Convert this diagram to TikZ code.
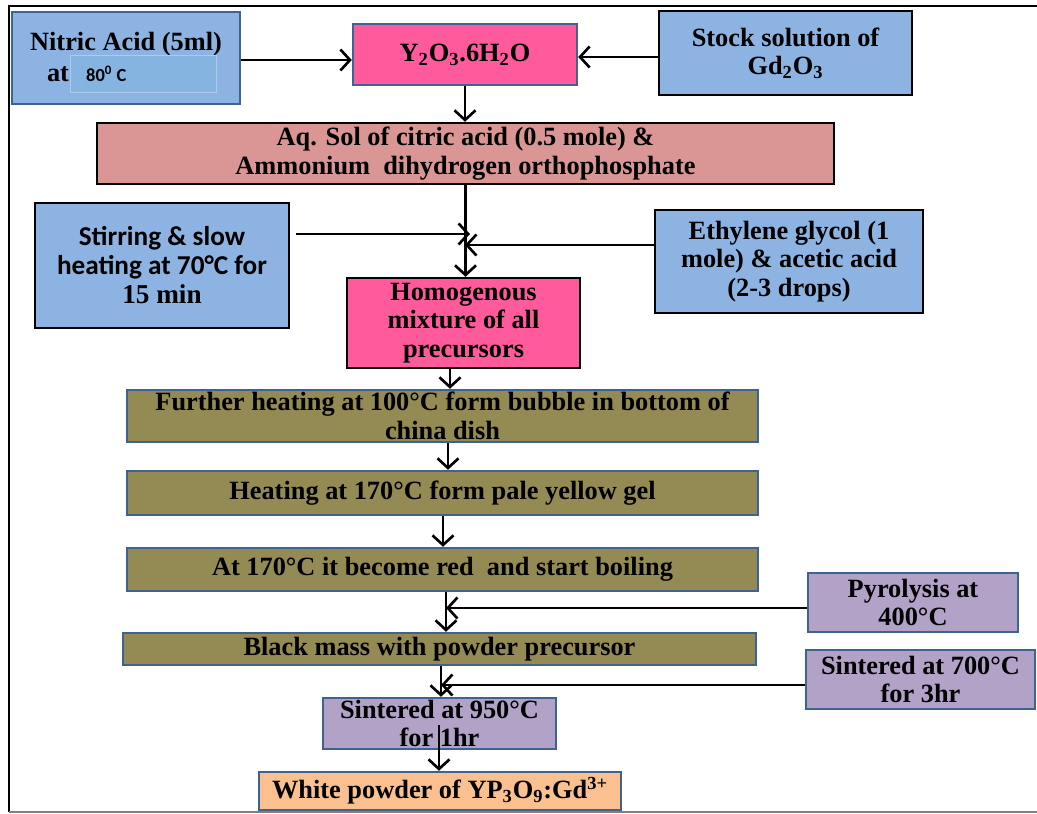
\documentclass[tikz,border=0pt]{standalone}
\usepackage{fontspec}
\setmainfont{Liberation Serif}
\newfontfamily\calfont{Carlito}
\usetikzlibrary{positioning, arrows.meta}

\definecolor{skyfill}{HTML}{8DB3E2}
\definecolor{innerfill}{HTML}{85B4E0}
\definecolor{pinkfill}{HTML}{FF5A9B}
\definecolor{rosefill}{HTML}{D99694}
\definecolor{olivefill}{HTML}{948A54}
\definecolor{lilacfill}{HTML}{B3A2C7}
\definecolor{peachfill}{HTML}{FAC090}
\definecolor{slateline}{HTML}{3F6390}

\begin{document}
\begin{tikzpicture}
	[x=0.02cm, y=-0.02cm, >={Straight Barb[length=5.5pt,width=12pt]},
	 box/.style={rectangle, draw=black, line width=1.4pt, inner sep=0pt, align=center,
	   font=\fontsize{15}{16.2}\selectfont\bfseries},
	 slatebox/.style={box, draw=slateline},
	 flow/.style={->, line width=1.5pt}]
   \useasboundingbox (0,0) rectangle (1037,814);
   \draw[line width=1pt] (1037,6) -- (9,6) -- (9,812);
   \draw[line width=0.8pt, gray] (9,812) -- (1037,812);

   \node[slatebox, fill=skyfill, minimum width=4.56cm, minimum height=1.84cm] (nitric) at (126,58) {};
   \node[font=\fontsize{15}{16.2}\selectfont\bfseries] (nitrictxt) at (126,44) {Nitric Acid (5ml)};
   \node[rectangle, fill=innerfill, draw=skyfill!70!white, line width=0.5pt, minimum width=2.92cm, minimum height=0.74cm] (nitrictemp) at (143,73.5) {};
   \node[font=\fontsize{15}{16.2}\selectfont\bfseries] (nitricat) at (58,74) {at};
   \node[font=\calfont\fontsize{10.5}{12}\selectfont\bfseries, anchor=west] (nitricdeg) at (80,74) {80\textsuperscript{0} C};

   \node[slatebox, fill=pinkfill, minimum width=4.48cm, minimum height=1.22cm] (yoxide) at (465,54.5) {Y\textsubscript{2}O\textsubscript{3}.6H\textsubscript{2}O};
   \node[box, fill=skyfill, minimum width=5.06cm, minimum height=1.68cm] (stock) at (785.5,53) {Stock solution of\\Gd\textsubscript{2}O\textsubscript{3}};
   \node[box, fill=rosefill, minimum width=14.74cm, minimum height=1.22cm] (citric) at (465.5,153.5) {Aq. Sol of citric acid (0.5 mole) \&\\Ammonium\ \ dihydrogen orthophosphate};
   \node[box, fill=skyfill, minimum width=5.08cm, minimum height=2.5cm,
     font=\fontsize{15.5}{16.5}\selectfont\bfseries] (stirring) at (162,265.5)
     {{\calfont Stirring \& slow}\\{\calfont heating at 70°C for}\\15 min};
   \node[box, fill=skyfill, minimum width=5.36cm, minimum height=2.06cm] (glycol) at (789,261.5) {Ethylene glycol (1\\mole) \& acetic\ acid\\(2-3 drops)};
   \node[box, fill=pinkfill, minimum width=4.66cm, minimum height=1.8cm] (mixture) at (463.5,323) {Homogenous\\mixture of all\\precursors};
   \node[slatebox, fill=olivefill, minimum width=12.62cm, minimum height=1.04cm] (bubble) at (442.5,416) {Further heating at 100°C form bubble in bottom of\\china dish};
   \node[slatebox, fill=olivefill, minimum width=12.62cm, minimum height=0.88cm] (gel) at (442.5,493) {Heating at 170°C form pale yellow gel};
   \node[slatebox, fill=olivefill, minimum width=12.62cm, minimum height=0.86cm] (boiling) at (442.5,569.5) {At 170°C it become red\ \ and start boiling};
   \node[slatebox, fill=lilacfill, minimum width=4.2cm, minimum height=1.18cm] (pyrolysis) at (913,602.5) {Pyrolysis at\\400°C};
   \node[slatebox, fill=olivefill, minimum width=12.66cm, minimum height=0.64cm] (blackmass) at (439.5,649) {Black mass with powder precursor};
   \node[slatebox, fill=lilacfill, minimum width=4.58cm, minimum height=1.18cm] (sinterA) at (920.5,679.5) {Sintered at 700°C\\for 3hr};
   \node[slatebox, fill=lilacfill, minimum width=4.66cm, minimum height=1.02cm] (sinterB) at (439.5,723.5) {Sintered at 950°C\\for 1hr};
   \node[slatebox, fill=peachfill, minimum width=7.24cm, minimum height=0.76cm] (powder) at (440,791) {White powder of YP\textsubscript{3}O\textsubscript{9}:Gd\textsuperscript{3+}};

   \coordinate (joinA) at (465,234);
   \coordinate (joinB) at (465,245);
   \coordinate (joinC) at (446,608);
   \coordinate (joinD) at (441,685);

    \draw[flow] (nitric.east |- 0,60) -- (yoxide.west |- 0,60);
    \draw[flow] (stock.west |- 0,57) -- (yoxide.east |- 0,57);
    \draw[flow] (yoxide.south) -- (yoxide.south |- citric.north);
    \draw[flow] (citric.south) -- (citric.south |- mixture.north);
    \draw[flow] ([xshift=0.12cm]stirring.east |- joinA) -- ([xshift=0.1cm]joinA);
    \draw[flow] (glycol.west |- joinB) -- (joinB);
    \draw[flow] (mixture.south -| 450,0) -- (bubble.north -| 450,0);
    \draw[flow] (bubble.south -| 448,0) -- (gel.north -| 448,0);
    \draw[flow] (gel.south -| 443,0) -- (boiling.north -| 443,0);
    \draw[flow] (boiling.south -| joinC) -- (blackmass.north -| joinC);
    \draw[flow] (pyrolysis.west |- joinC) -- (joinC);
    \draw[flow] (blackmass.south -| joinD) -- (sinterB.north -| joinD);
    \draw[flow] (sinterA.west |- joinD) -- (joinD);
    \draw[flow] ([yshift=0.5cm]sinterB.south -| 439,0) -- (powder.north -| 439,0);
\end{tikzpicture}
\end{document}
